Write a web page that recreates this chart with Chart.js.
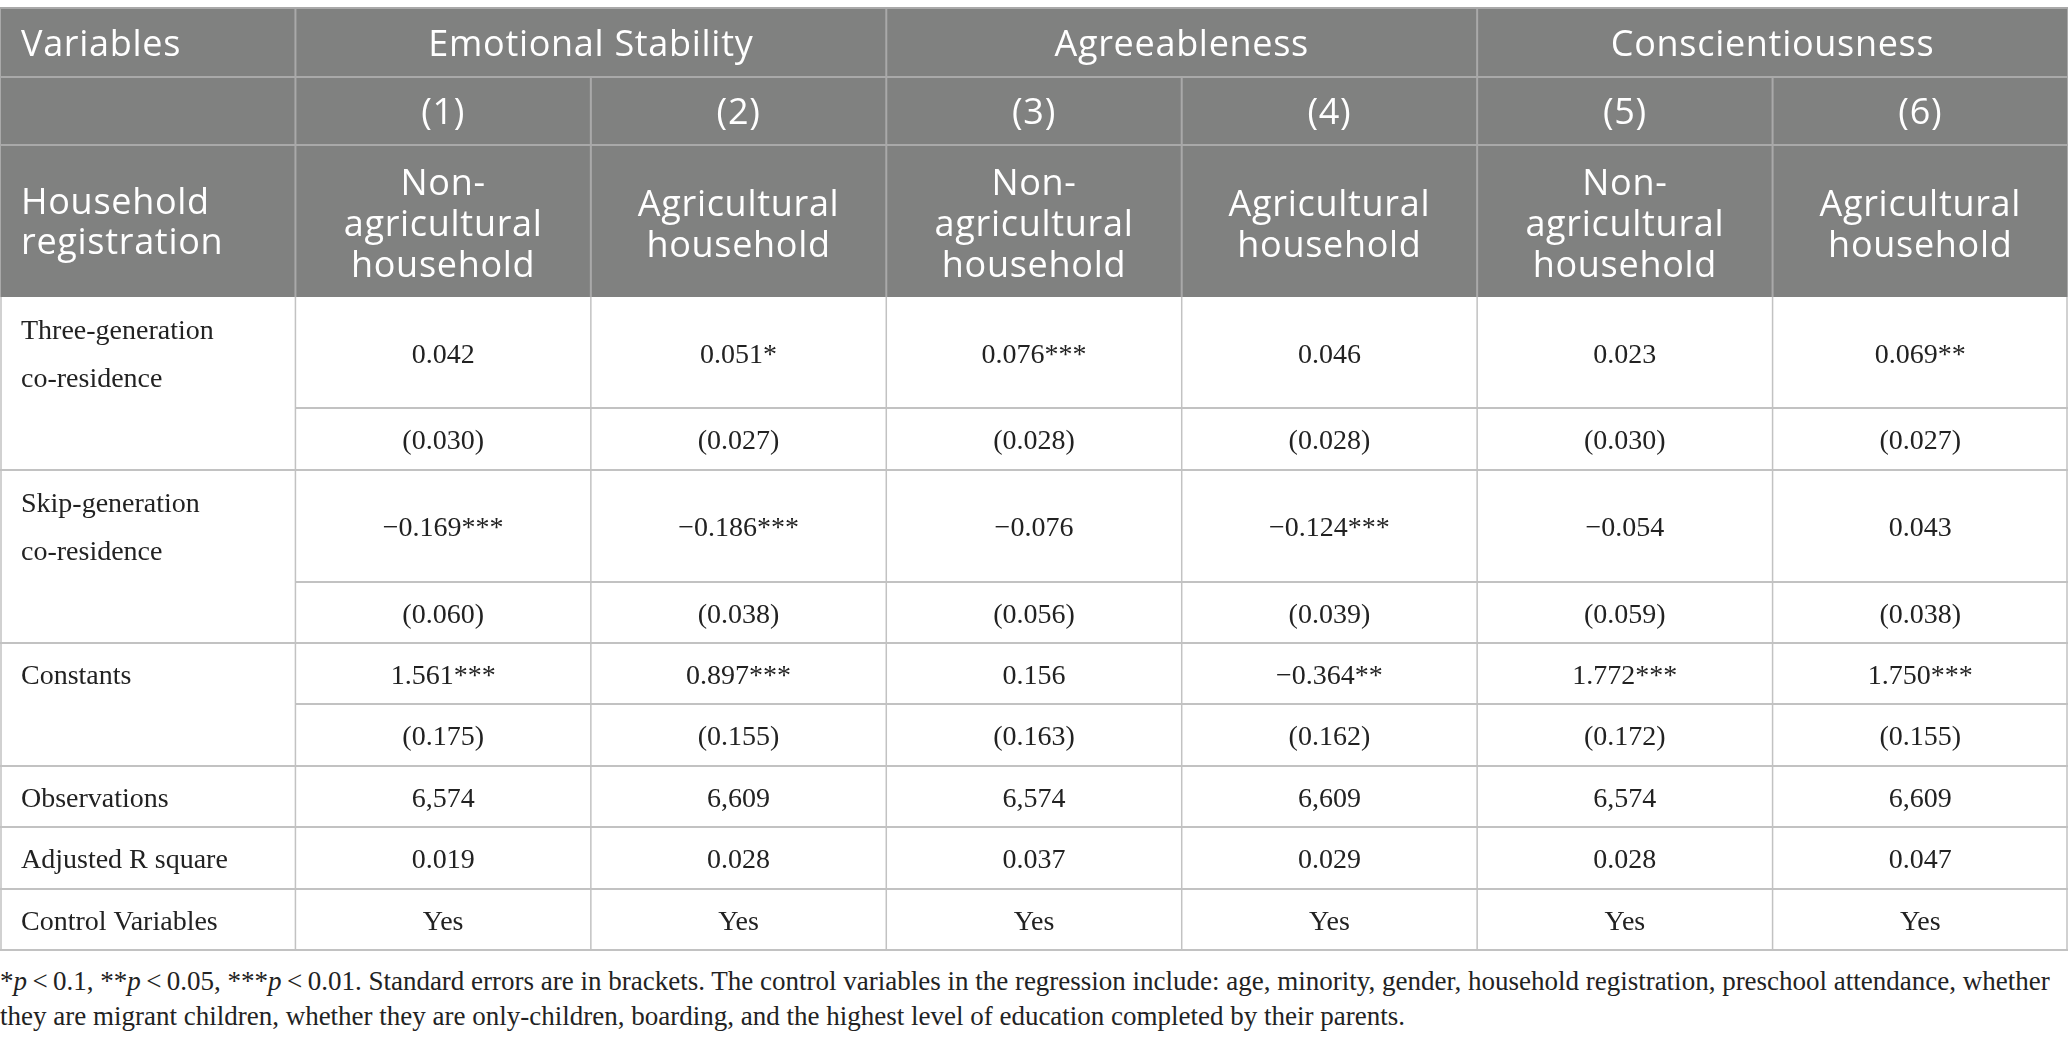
<!DOCTYPE html>
<html>
<head>
<meta charset="utf-8">
<script src="https://cdn.jsdelivr.net/npm/chart.js@4.4.0/dist/chart.umd.min.js"></script>
<style>
  html, body { margin: 0; padding: 0; background: #fff; }
  #wrap { width: 2068px; }
  canvas { display: block; }
  .note {
    font-family: "Liberation Serif", serif;
    font-size: 27px;
    line-height: 35px;
    color: #222;
    padding-top: 12px;
    white-space: nowrap;
  }
</style>
</head>
<body>
<div id="wrap">
  <canvas id="tbl" width="2068" height="952"></canvas>
  <div class="note">*<i>p</i>&thinsp;&lt;&thinsp;0.1, **<i>p</i>&thinsp;&lt;&thinsp;0.05, ***<i>p</i>&thinsp;&lt;&thinsp;0.01. Standard errors are in brackets. The control variables in the regression include: age, minority, gender, household registration, preschool attendance, whether<br>they are migrant children, whether they are only-children, boarding, and the highest level of education completed by their parents.</div>
</div>
<script>
// table content
const groups = ['Emotional Stability', 'Agreeableness', 'Conscientiousness'];
const models = ['(1)', '(2)', '(3)', '(4)', '(5)', '(6)'];
const registration = ['Non-\nagricultural\nhousehold', 'Agricultural\nhousehold',
  'Non-\nagricultural\nhousehold', 'Agricultural\nhousehold',
  'Non-\nagricultural\nhousehold', 'Agricultural\nhousehold'];

const threeGenCoef = ['0.042', '0.051*', '0.076***', '0.046', '0.023', '0.069**'];
const threeGenSE = ['(0.030)', '(0.027)', '(0.028)', '(0.028)', '(0.030)', '(0.027)'];
const skipGenCoef = ['\u22120.169***', '\u22120.186***', '\u22120.076', '\u22120.124***', '\u22120.054', '0.043'];
const skipGenSE = ['(0.060)', '(0.038)', '(0.056)', '(0.039)', '(0.059)', '(0.038)'];
const constCoef = ['1.561***', '0.897***', '0.156', '\u22120.364**', '1.772***', '1.750***'];
const constSE = ['(0.175)', '(0.155)', '(0.163)', '(0.162)', '(0.172)', '(0.155)'];
const observations = ['6,574', '6,609', '6,574', '6,609', '6,574', '6,609'];
const adjR2 = ['0.019', '0.028', '0.037', '0.029', '0.028', '0.047'];
const controls = ['Yes', 'Yes', 'Yes', 'Yes', 'Yes', 'Yes'];

// body blocks: label + one or two value rows
const blocks = [
  { label: 'Three-generation\nco-residence', rows: [threeGenCoef, threeGenSE] },
  { label: 'Skip-generation\nco-residence', rows: [skipGenCoef, skipGenSE] },
  { label: 'Constants', rows: [constCoef, constSE] },
  { label: 'Observations', rows: [observations] },
  { label: 'Adjusted R square', rows: [adjR2] },
  { label: 'Control Variables', rows: [controls] }
];

// layout (y in canvas px, x in column units)
const headTop = 8;
const headRows = [69, 68, 152];
const bodyRowH = [[111, 62], [112, 61], [61, 62], [61], [62], [61]];
const headBg = '#808180';
const headLine = '#a9a9a9';
const bodyLine = '#c2c2c2';
const headFont = '36px "Open Sans", "Noto Sans", sans-serif';
const bodyFont = '28px "Liberation Serif", serif';

function lines(ctx, text, x, yMid, step, align) {
  const parts = text.split('\n');
  ctx.textAlign = align;
  parts.forEach((t, i) => {
    ctx.fillText(t, x, yMid + (i - (parts.length - 1) / 2) * step);
  });
}

const tablePlugin = {
  id: 'tablePlugin',
  afterDraw(chart) {
    const ctx = chart.ctx;
    const xs = chart.scales.x, ys = chart.scales.y;
    const X = v => xs.getPixelForValue(v);
    const Y = v => ys.getPixelForValue(v);
    const left = X(0), right = X(7);
    ctx.save();
    ctx.textBaseline = 'middle';

    // header background
    const h0 = headTop, h1 = h0 + headRows[0], h2 = h1 + headRows[1], h3 = h2 + headRows[2];
    ctx.fillStyle = headBg;
    ctx.fillRect(left, Y(h0), right - left, Y(h3) - Y(h0));

    // header lines
    ctx.strokeStyle = headLine;
    ctx.lineWidth = 2;
    ctx.beginPath();
    [h0, h1, h2].forEach(h => { ctx.moveTo(left, Y(h)); ctx.lineTo(right, Y(h)); });
    [0, 1, 3, 5, 7].forEach(c => { ctx.moveTo(X(c), Y(h0)); ctx.lineTo(X(c), Y(h3)); });
    [2, 4, 6].forEach(c => { ctx.moveTo(X(c), Y(h1)); ctx.lineTo(X(c), Y(h3)); });
    ctx.stroke();

    // header text
    ctx.fillStyle = '#ffffff';
    ctx.font = headFont;
    ctx.letterSpacing = '0.7px';
    ctx.textAlign = 'left';
    const dy = 3;
    ctx.fillText('Variables', X(0) + 21, (Y(h0) + Y(h1)) / 2 + dy);
    lines(ctx, 'Household\nregistration', X(0) + 21, (Y(h2) + Y(h3)) / 2 + dy, 40, 'left');
    groups.forEach((g, i) => {
      ctx.textAlign = 'center';
      ctx.fillText(g, X(1 + i * 2 + 1), (Y(h0) + Y(h1)) / 2 + dy);
    });
    models.forEach((m, i) => {
      ctx.textAlign = 'center';
      ctx.fillText(m, X(i + 1.5), (Y(h1) + Y(h2)) / 2 + dy);
    });
    registration.forEach((r, i) => {
      lines(ctx, r, X(i + 1.5), (Y(h2) + Y(h3)) / 2 + dy + 2, 41, 'center');
    });
    ctx.letterSpacing = '0px';

    // body
    let y = h3;
    ctx.font = bodyFont;
    blocks.forEach((b, bi) => {
      const top = y;
      const hs = bodyRowH[bi];
      ctx.fillStyle = '#222222';
      lines(ctx, b.label, X(0) + 21, (Y(top) + Y(top + hs[0])) / 2 + dy, 48, 'left');
      b.rows.forEach((vals, ri) => {
        const mid = (Y(y) + Y(y + hs[ri])) / 2 + dy;
        vals.forEach((v, ci) => {
          ctx.textAlign = 'center';
          ctx.fillText(v, X(ci + 1.5), mid);
        });
        y += hs[ri];
        if (ri < b.rows.length - 1) {
          ctx.strokeStyle = bodyLine;
          ctx.lineWidth = 2;
          ctx.beginPath();
          ctx.moveTo(X(1), Y(y)); ctx.lineTo(right, Y(y));
          ctx.stroke();
        }
      });
      ctx.strokeStyle = bodyLine;
      ctx.lineWidth = 2;
      ctx.beginPath();
      ctx.moveTo(left, Y(y)); ctx.lineTo(right, Y(y));
      ctx.stroke();
    });

    // body verticals
    ctx.strokeStyle = bodyLine;
    ctx.lineWidth = 1.5;
    ctx.beginPath();
    for (let c = 0; c <= 7; c++) {
      const px = c === 0 ? left + 1 : (c === 7 ? right - 1 : X(c));
      ctx.moveTo(px, Y(h3)); ctx.lineTo(px, Y(y));
    }
    ctx.stroke();
    ctx.restore();
  }
};

new Chart(document.getElementById('tbl'), {
  type: 'scatter',
  data: { datasets: [{ data: [] }] },
  options: {
    responsive: false,
    animation: false,
    devicePixelRatio: 1,
    layout: { padding: 0 },
    plugins: { legend: { display: false }, tooltip: { enabled: false } },
    scales: {
      x: { type: 'linear', min: 0, max: 7, display: false },
      y: { type: 'linear', min: 0, max: 952, reverse: true, display: false }
    }
  },
  plugins: [tablePlugin]
});
</script>
</body>
</html>
